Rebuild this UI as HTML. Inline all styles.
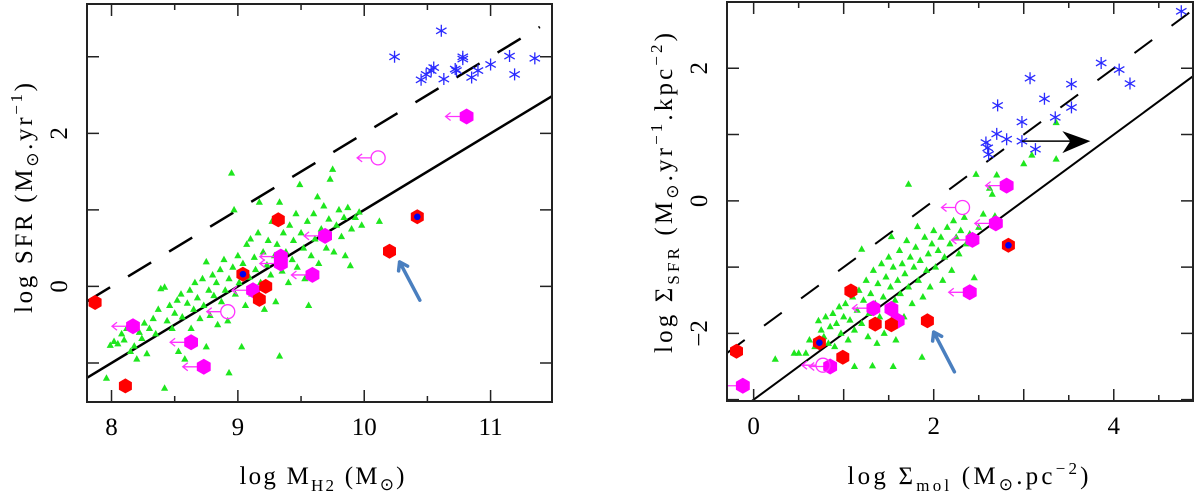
<!DOCTYPE html>
<html><head><meta charset="utf-8"><style>
html,body{margin:0;padding:0;background:#fff;}
svg{display:block;}
text{font-family:"Liberation Serif",serif;fill:#000;}
</style></head><body>
<svg id="fig" width="1200" height="498" viewBox="0 0 1200 498" xmlns="http://www.w3.org/2000/svg">
<rect width="1200" height="498" fill="#fff"/>
<g id="L"></g>
<g id="R"></g>
</svg>
<script>
// ---------- LEFT PANEL DATA ----------
const leftXTicks=[8,9,10,11];
const leftYTicks=[0,2];
const leftGreen=[[7.96,-1.20],[7.99,-0.77],[8.02,-0.72],[8.05,-0.75],[8.08,-0.62],[8.10,-0.70],[8.12,-0.55],[8.15,-0.85],[8.18,-0.78],[8.20,-0.95],[8.22,-0.60],[8.24,-0.68],[8.26,-0.48],[8.28,-0.88],[8.30,-0.55],[8.33,-0.42],[8.35,-0.62],[8.37,-0.30],[8.39,-0.03],[8.42,-0.01],[8.42,-1.33],[8.44,-0.45],[8.46,-0.25],[8.48,-0.55],[8.50,-0.35],[8.52,-0.18],[8.53,-0.85],[8.55,-0.10],[8.56,-0.40],[8.58,-0.95],[8.60,-0.22],[8.62,-0.05],[8.63,-0.55],[8.65,-0.30],[8.66,0.05],[8.68,-0.15],[8.70,-0.42],[8.72,0.10],[8.73,-0.25],[8.75,0.32],[8.75,-0.79],[8.77,-0.05],[8.78,-0.38],[8.80,0.15],[8.81,-0.12],[8.83,0.05],[8.84,-0.50],[8.86,0.22],[8.87,-0.20],[8.89,0.35],[8.90,-0.05],[8.92,-0.45],[8.93,0.10],[8.93,-1.13],[8.95,1.48],[8.96,0.25],[8.97,1.00],[8.98,-0.10],[9.00,0.40],[9.01,0.05],[9.03,-0.79],[9.04,0.30],[9.06,-0.25],[9.07,0.55],[9.09,0.12],[9.10,0.62],[9.11,-0.10],[9.13,0.38],[9.14,0.22],[9.16,0.70],[9.17,1.10],[9.18,0.05],[9.20,0.45],[9.21,-0.30],[9.23,0.28],[9.24,0.60],[9.26,0.15],[9.27,0.85],[9.29,0.40],[9.30,-0.20],[9.31,0.55],[9.33,1.10],[9.33,-0.91],[9.35,0.20],[9.36,0.70],[9.38,0.45],[9.40,0.05],[9.41,0.80],[9.43,0.35],[9.44,0.60],[9.46,0.95],[9.47,0.25],[9.49,1.33],[9.50,0.70],[9.52,0.50],[9.53,0.10],[9.55,0.85],[9.56,-0.25],[9.58,0.40],[9.60,0.95],[9.61,0.62],[9.63,1.17],[9.64,0.30],[9.66,0.75],[9.68,1.05],[9.70,0.50],[9.72,0.88],[9.73,1.40],[9.75,1.53],[9.76,0.45],[9.78,0.80],[9.80,1.00],[9.82,0.65],[9.84,0.90],[9.85,0.40],[9.87,1.03],[9.89,0.27],[9.90,0.75],[9.93,0.90],[9.96,0.97],[9.98,0.80],[10.12,0.85]];
const leftStars=[[10.24,3.00],[10.61,3.34],[10.45,2.70],[10.49,2.77],[10.53,2.82],[10.55,2.86],[10.63,2.71],[10.72,2.84],[10.73,2.82],[10.78,3.00],[10.78,2.97],[10.85,2.73],[10.90,2.82],[11.00,2.90],[11.15,3.01],[11.19,2.77],[11.35,2.98]];
const leftRed=[[7.87,-0.21],[8.11,-1.30],[9.32,0.87],[9.17,-0.17],[9.22,0.00],[10.20,0.46]];
const leftRedBlue=[[9.04,0.16],[10.42,0.91]];
const leftMagenta=[[8.17,-0.52],[8.63,-0.73],[8.73,-1.05],[9.34,0.39],[9.34,0.30],[9.59,0.15],[9.69,0.66],[10.81,2.22],[9.12,-0.05]];
const leftOpen=[[10.11,1.68],[8.92,-0.33]];
const leftFit=[1.0,-9.0];   // slope, intercept (solid)
const leftFit2=[1.0,-8.0];  // dashed
const leftPointer=[[10.44,-0.18],[10.28,0.32]];

// ---------- RIGHT PANEL DATA ----------
const rightXTicks=[0,2,4];
const rightYTicks=[-2,0,2];
const rightGreen=[[0.24,-2.39],[0.45,-2.30],[0.50,-2.30],[0.58,-2.30],[0.62,-2.10],[0.68,-2.20],[0.72,-1.81],[0.75,-1.95],[0.78,-2.05],[0.80,-1.75],[0.83,-2.15],[0.85,-1.90],[0.88,-1.70],[0.90,-2.20],[0.92,-1.85],[0.95,-1.60],[0.97,-2.00],[1.00,-1.75],[1.02,-1.55],[1.05,-2.10],[1.07,-1.80],[1.10,-1.45],[1.12,-2.50],[1.12,-1.95],[1.15,-1.65],[1.17,-1.35],[1.20,-0.73],[1.20,-1.85],[1.22,-1.50],[1.25,-1.20],[1.27,-2.05],[1.28,-1.70],[1.30,-1.40],[1.32,-2.49],[1.33,-1.05],[1.35,-1.55],[1.37,-2.15],[1.38,-1.25],[1.40,-1.75],[1.42,-0.95],[1.44,-1.45],[1.45,-2.00],[1.47,-1.15],[1.49,-1.60],[1.50,-0.85],[1.52,-1.30],[1.53,-0.54],[1.55,-2.50],[1.55,-1.00],[1.57,-1.50],[1.58,-2.10],[1.60,-1.20],[1.62,-0.75],[1.63,-1.40],[1.65,-0.95],[1.67,-1.75],[1.68,-1.10],[1.70,-0.60],[1.72,0.25],[1.72,-1.30],[1.74,-0.85],[1.76,-1.55],[1.78,-1.00],[1.80,-0.70],[1.82,-0.39],[1.83,-1.20],[1.85,-0.90],[1.87,-2.36],[1.88,-1.45],[1.90,-0.55],[1.92,-1.05],[1.94,-0.80],[1.96,-1.30],[1.98,-0.65],[2.00,-0.45],[2.02,-1.00],[2.05,-0.75],[2.08,-0.55],[2.10,-1.20],[2.12,-0.85],[2.15,-0.40],[2.18,-0.65],[2.20,-1.05],[2.22,-0.30],[2.25,-0.55],[2.28,-0.80],[2.30,-0.45],[2.34,-0.25],[2.36,-0.65],[2.40,-0.50],[2.45,-1.16],[2.47,0.40],[2.50,-0.40],[2.55,-0.20],[2.62,0.19],[2.65,0.10],[2.68,-0.23],[2.70,0.39],[3.00,0.56],[3.09,0.69],[3.36,0.63],[3.36,1.18]];
const rightStars=[[2.58,0.88],[2.60,0.80],[2.61,0.70],[2.70,1.01],[2.81,0.93],[2.71,1.44],[2.98,1.19],[2.98,0.90],[3.07,1.85],[3.13,0.78],[3.23,1.54],[3.35,1.26],[3.53,1.76],[3.53,1.41],[3.86,2.08],[4.06,1.98],[4.18,1.77],[4.75,2.86]];
const rightRed=[[-0.19,-2.27],[1.08,-1.36],[1.35,-1.86],[1.53,-1.87],[1.93,-1.81],[0.99,-2.36]];
const rightRedBlue=[[0.73,-2.14],[2.83,-0.67]];
const rightMagenta=[[-0.12,-2.79],[0.85,-2.50],[1.33,-1.62],[1.53,-1.63],[1.60,-1.81],[2.40,-1.38],[2.43,-0.59],[2.69,-0.34],[2.81,0.23]];
const rightMagentaArrow=[true,true,true,false,false,true,true,true,true];
const rightOpen=[[2.32,-0.10],[0.77,-2.48]];
const rightFit=[1.0,-3.0];
const rightFit2=[1.0,-2.0];
const rightPointer=[[2.23,-2.58],[2.00,-1.98]];
const rightBlackArrow=[[2.98,0.90],[3.74,0.90]];

const NS="http://www.w3.org/2000/svg";
function mk(parent,tag,attrs){const e=document.createElementNS(NS,tag);for(const k in attrs)e.setAttribute(k,attrs[k]);parent.appendChild(e);return e;}

function panel(g,P){
  const sx=v=>P.x0+(v-P.xmin)/(P.xmax-P.xmin)*(P.x1-P.x0);
  const sy=v=>P.y1-(v-P.ymin)/(P.ymax-P.ymin)*(P.y1-P.y0);
  const clip=mk(g,'clipPath',{id:P.id+'clip'});
  mk(clip,'rect',{x:P.x0,y:P.y0,width:P.x1-P.x0,height:P.y1-P.y0});
  const pl=mk(g,'g',{'clip-path':'url(#'+P.id+'clip)'});
  const ls=mk(pl,'line',{x1:sx(P.xmin),y1:sy(P.fit[0]*P.xmin+P.fit[1]),x2:sx(P.xmax),y2:sy(P.fit[0]*P.xmax+P.fit[1]),stroke:'#000','stroke-width':P.lw});
  
  
  const ld=mk(pl,'line',{x1:sx(P.xmin),y1:sy(P.fit2[0]*P.xmin+P.fit2[1]),x2:sx(P.dashEnd),y2:sy(P.fit2[0]*P.dashEnd+P.fit2[1]),stroke:'#000','stroke-width':P.lw,'stroke-dasharray':P.dash});
  
  
  P.green.forEach(d=>{const x=sx(d[0]),y=sy(d[1]);
    const t=mk(pl,'polygon',{points:`${x},${y-4} ${x-3.6},${y+2.5} ${x+3.6},${y+2.5}`,fill:'#1ee61e'});
    
    });
  P.stars.forEach(d=>{const x=sx(d[0]),y=sy(d[1]);
    const s=mk(pl,'path',{d:`M${x},${y-6}V${y+6}M${x-5.2},${y-3}L${x+5.2},${y+3}M${x-5.2},${y+3}L${x+5.2},${y-3}`,stroke:'#2a2aff','stroke-width':1.3,fill:'none'});
    
    });
  const hex=(x,y,r,fill,name)=>{let p=[];for(let i=0;i<6;i++){const a=Math.PI/6+i*Math.PI/3;p.push((x+r*Math.cos(a)).toFixed(1)+','+(y+r*Math.sin(a)).toFixed(1));}
    const h=mk(pl,'polygon',{points:p.join(' '),fill:fill});
    
    };
  const larrow=(x,y,len)=>{const a=mk(pl,'path',{d:`M${x},${y}H${x-len}M${x-len+5},${y-4}L${x-len},${y}L${x-len+5},${y+4}`,stroke:'#ff33ff','stroke-width':1.3,fill:'none'});
    
    };
  P.magenta.forEach((d,i)=>{const x=sx(d[0]),y=sy(d[1]);if(!P.magArrow||P.magArrow[i])larrow(x-5,y,16);hex(x,y,8,'#ff00ff','magenta-hexagon-point');});
  P.open.forEach(d=>{const x=sx(d[0]),y=sy(d[1]);larrow(x-7,y,14);
    const c=mk(pl,'circle',{cx:x,cy:y,r:7,fill:'none',stroke:'#ff33ff','stroke-width':1.3});
    
    });
  P.red.forEach(d=>hex(sx(d[0]),sy(d[1]),7.5,'#ff0000','red-hexagon-point'));
  P.redBlue.forEach(d=>{const x=sx(d[0]),y=sy(d[1]);hex(x,y,7.5,'#ff0000','red-hexagon-blue-center');
    const c=mk(pl,'circle',{cx:x,cy:y,r:3.3,fill:'#0000ee'});
    
    });
  {const a=P.pointer[0],b=P.pointer[1];const x1=sx(a[0]),y1=sy(a[1]),x2=sx(b[0]),y2=sy(b[1]);
   const ang=Math.atan2(y2-y1,x2-x1),L=9;
   const p=mk(g,'path',{d:`M${x1},${y1}L${x2},${y2}M${x2-L*Math.cos(ang-0.6)},${y2-L*Math.sin(ang-0.6)}L${x2},${y2}L${x2-L*Math.cos(ang+0.6)},${y2-L*Math.sin(ang+0.6)}`,stroke:'#4a7fbf','stroke-width':3.5,fill:'none','stroke-linecap':'round','stroke-linejoin':'round'});
   
   }
  if(P.black){const a=P.black[0],b=P.black[1];const x1=sx(a[0]),y=sy(a[1]),x2=sx(b[0]);
   const p=mk(g,'path',{d:`M${x1},${y}H${x2-14}`,stroke:'#000','stroke-width':1.5});
   
   
   const h=mk(g,'path',{d:`M${x2},${y}L${x2-28},${y-10}L${x2-20},${y}L${x2-28},${y+12}Z`,fill:'#000'});
   
   }
  const fr=mk(g,'rect',{x:P.x0,y:P.y0,width:P.x1-P.x0,height:P.y1-P.y0,fill:'none',stroke:'#222','stroke-width':2});
  
  
  for(let v=Math.ceil(P.xmin/P.xminor)*P.xminor;v<=P.xmax+1e-9;v+=P.xminor){
    const x=sx(v),major=Math.abs(v/P.xmajor-Math.round(v/P.xmajor))<1e-6,L=major?12:6;
    mk(g,'path',{d:`M${x},${P.y1}v${-L}M${x},${P.y0}v${L}`,stroke:'#222','stroke-width':1.5});}
  for(let v=Math.ceil(P.ymin/P.yminor)*P.yminor;v<=P.ymax+1e-9;v+=P.yminor){
    const y=sy(v),major=Math.abs(v/P.ymajor-Math.round(v/P.ymajor))<1e-6,L=major?12:6;
    mk(g,'path',{d:`M${P.x0},${y}h${L}M${P.x1},${y}h${-L}`,stroke:'#222','stroke-width':1.5});}
  P.xt.forEach(v=>{const t=mk(g,'text',{x:sx(v),y:P.y1+33,'text-anchor':'middle','font-size':25});t.textContent=v;
    
    });
  P.yt.forEach(v=>{const x=P.x0-20,y=sy(v);const t=mk(g,'text',{x:x,y:y,'text-anchor':'middle','font-size':25,transform:`rotate(-90 ${x} ${y})`});t.textContent=(v<0?'\u2212':'')+Math.abs(v);
    
    });
}

const L=document.getElementById('L'),R=document.getElementById('R');
panel(L,{id:'L',x0:87,x1:552,y0:4,y1:402,xmin:7.806,xmax:11.486,ymin:-1.51,ymax:3.69,xminor:0.5,xmajor:1,yminor:1,ymajor:1,
  xt:leftXTicks,yt:leftYTicks,green:leftGreen,stars:leftStars,red:leftRed,redBlue:leftRedBlue,magenta:leftMagenta,open:leftOpen,
  fit:leftFit,fit2:leftFit2,dashEnd:11.39,lw:2.5,dash:'27 21',pointer:leftPointer});
panel(R,{id:'R',x0:727,x1:1193,y0:2,y1:401,xmin:-0.296,xmax:4.88,ymin:-3.02,ymax:3.0,xminor:0.5,xmajor:1,yminor:1,ymajor:1,
  xt:rightXTicks,yt:rightYTicks,green:rightGreen,stars:rightStars,red:rightRed,redBlue:rightRedBlue,magenta:rightMagenta,magArrow:rightMagentaArrow,open:rightOpen,
  fit:rightFit,fit2:rightFit2,dashEnd:4.88,lw:2,dash:'22 24',pointer:rightPointer,black:rightBlackArrow});

function txt(g,html,x,y,rot,len,name){const t=mk(g,'text',{x:x-len/2,y:y,'font-size':25,textLength:len,lengthAdjust:'spacing'});if(rot)t.setAttribute('transform',`rotate(-90 ${x} ${y})`);t.innerHTML=html;
  
  return t;}
txt(L,'log  M<tspan font-size="17" dy="7">H2</tspan><tspan dy="-7"> (M</tspan><tspan font-size="17" dy="6">⊙</tspan><tspan dy="-6">)</tspan>',322,484,false,165,'x-axis-title');
txt(L,'log  SFR  (M<tspan font-size="17" dy="6">⊙</tspan><tspan dy="-6">.yr</tspan><tspan font-size="17" dy="-10">−1</tspan><tspan dy="10">)</tspan>',32,198,true,230,'y-axis-title');
txt(R,'log  Σ<tspan font-size="17" dy="7">mol</tspan><tspan dy="-7">  (M</tspan><tspan font-size="17" dy="6">⊙</tspan><tspan dy="-6">.pc</tspan><tspan font-size="17" dy="-10">−2</tspan><tspan dy="10">)</tspan>',968,484,false,241,'x-axis-title');
txt(R,'log  Σ<tspan font-size="17" dy="7">SFR</tspan><tspan dy="-7">  (M</tspan><tspan font-size="17" dy="6">⊙</tspan><tspan dy="-6">.yr</tspan><tspan font-size="17" dy="-10">−1</tspan><tspan dy="10">.kpc</tspan><tspan font-size="17" dy="-10">−2</tspan><tspan dy="10">)</tspan>',672,193,true,320,'y-axis-title');
</script>
</body></html>
